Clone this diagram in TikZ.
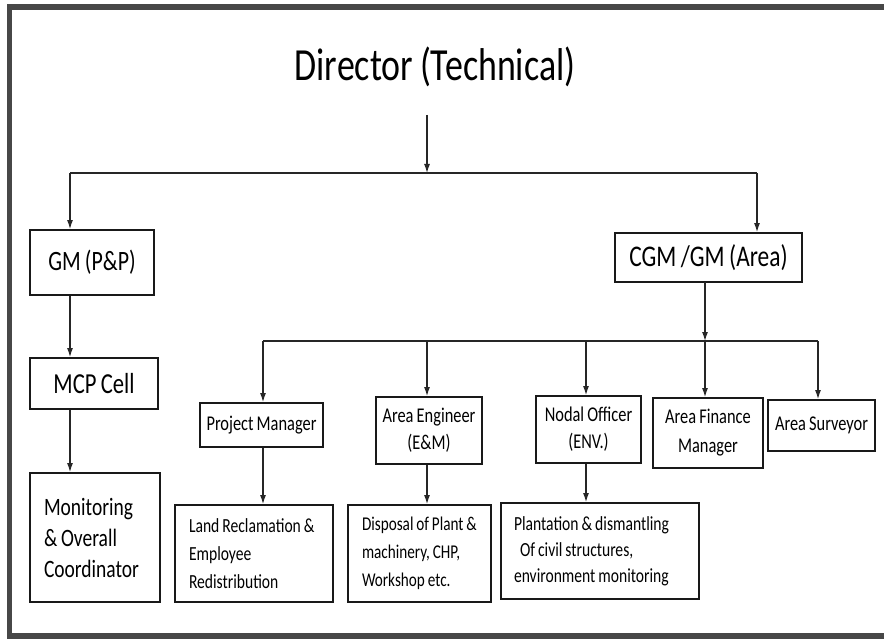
\documentclass[tikz,border=0pt]{standalone}
\usepackage{fontspec}
\setmainfont{Carlito}[FakeStretch=0.78,WordSpace=0.85]
\usetikzlibrary{arrows.meta,calc}
\tikzset{
  box/.style={draw=black!90, line width=1.8pt, inner sep=0pt, align=center, text=black},
  lbox/.style={box, align=flush left, inner xsep=0pt, execute at begin node={\leftskip=13pt\relax}},
  conn/.style={draw=black!85, line width=1.2pt},
  arr/.style={conn, -{Latex[length=9pt,width=6pt]}},
  band/.style={fill=black!72, draw=none},
}
\begin{document}
\begin{tikzpicture}[x=1pt,y=-1pt]
\useasboundingbox (0,0) rectangle (884,639);
\fill[white] (0,0) rectangle (884,639);
% outer frame
\path[band] (7,4) rectangle (884,10);
\path[band] (7,4) rectangle (12,639);
\path[band] (7,633) rectangle (884,639);

% title
\node[font=\fontsize{46}{50}\selectfont] (dir) at (435,67) {Director (Technical)};

% level 1
\node[box, minimum width=124pt, minimum height=65pt, font=\fontsize{28}{32}\selectfont] (gm) at (92,262.5) {GM (P\&P)};
\node[box, minimum width=187pt, minimum height=49pt, font=\fontsize{30}{34}\selectfont] (cgm) at (708.5,257.5) {CGM /GM (Area)};

% left column
\node[box, minimum width=128pt, minimum height=51pt, font=\fontsize{29}{32}\selectfont] (mcp) at (94,383.5) {MCP Cell};
\node[lbox, text width=128pt, minimum width=130pt, minimum height=129pt, font=\fontsize{25}{31}\selectfont] (mon) at (95,537.5) {Monitoring\\ \& Overall\\ Coordinator};

% level 2 under CGM
\node[box, minimum width=123pt, minimum height=44pt, font=\fontsize{21}{27}\selectfont] (pm) at (261.5,425) {Project Manager};
\node[box, minimum width=106pt, minimum height=67pt, font=\fontsize{21}{27}\selectfont] (ae) at (429,430.5) {Area Engineer\\ (E\&M)};
\node[box, minimum width=105pt, minimum height=67pt, font=\fontsize{21}{27}\selectfont] (no) at (588.5,429.5) {Nodal Officer\\ (ENV.)};
\node[box, minimum width=110pt, minimum height=70pt, font=\fontsize{21}{29}\selectfont] (afm) at (708,433) {Area Finance\\ Manager};
\node[box, minimum width=107pt, minimum height=51pt, font=\fontsize{21}{27}\selectfont] (as) at (821.5,425.5) {Area Surveyor};

% level 3
\node[lbox, text width=156pt, minimum width=158pt, minimum height=97pt, font=\fontsize{20}{28}\selectfont] (land) at (254,553.5) {Land Reclamation \&\\ Employee\\ Redistribution};
\node[lbox, text width=141pt, minimum width=143pt, minimum height=97pt, font=\fontsize{19.5}{28}\selectfont] (disp) at (419.5,553.5) {Disposal of Plant \&\\ machinery, CHP,\\ Workshop etc.};
\node[lbox, execute at begin node={\leftskip=12pt\relax}, text width=196pt, minimum width=198pt, minimum height=96pt, font=\fontsize{20}{26}\selectfont] (plant) at (600,551) {Plantation \& dismantling\\ \hspace*{6pt}Of civil structures,\\ environment monitoring};

% connectors
\coordinate (t0) at (427,115);
\coordinate (t1) at (427,173);
\coordinate (hl) at (70,173);
\coordinate (hr) at (757,173);
\draw[arr] (t0) -- (t1);
\draw[conn] (hl) -- (hr);
\draw[arr] (hl) -- (hl |- gm.north);
\draw[arr] (hr) -- (hr |- cgm.north);

\coordinate (gml) at (70,0);
\draw[arr] (gml |- gm.south) -- (gml |- mcp.north);
\draw[arr] (gml |- mcp.south) -- (gml |- mon.north);

\coordinate (c0) at (705,282);
\coordinate (c1) at (705,341);
\coordinate (bl) at (263,341);
\coordinate (br) at (818,341);
\draw[arr] (c0) -- (c1);
\draw[conn] (bl) -- (br);
\coordinate (xae) at (427,341);
\coordinate (xno) at (586,341);
\draw[arr] (bl) -- (bl |- pm.north);
\draw[arr] (xae) -- (xae |- ae.north);
\draw[arr] (xno) -- (xno |- no.north);
\draw[arr] (c1) -- (c1 |- afm.north);
\draw[arr] (br) -- (br |- as.north);

\draw[arr] (bl |- pm.south) -- (bl |- land.north);
\draw[arr] (xae |- ae.south) -- (xae |- disp.north);
\draw[arr] (xno |- no.south) -- (xno |- plant.north);
\end{tikzpicture}
\end{document}
